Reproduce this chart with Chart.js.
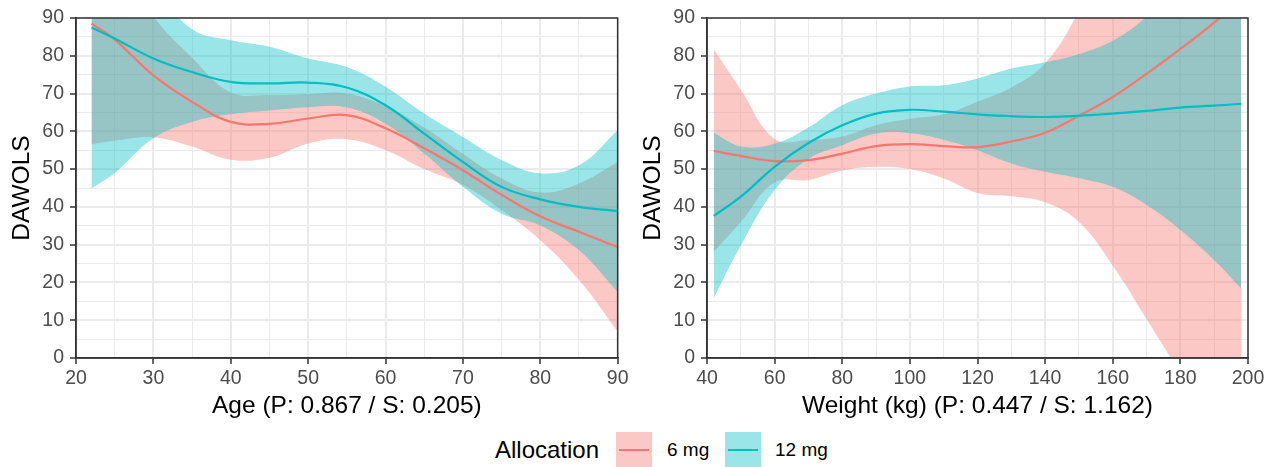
<!DOCTYPE html>
<html><head><meta charset="utf-8">
<script src="https://cdn.jsdelivr.net/npm/chart.js@4.4.1/dist/chart.umd.min.js"></script>
<style>
html,body{margin:0;padding:0;background:#fff;width:1277px;height:467px;overflow:hidden;font-family:"Liberation Sans",Arial,sans-serif;}
canvas{position:absolute;top:0;}
#c1{left:0;} #c2{left:631px;}
.txt{position:absolute;top:432px;height:36px;display:flex;align-items:center;white-space:nowrap;color:#000;}
.key{position:absolute;top:432px;width:36px;height:35px;}
.key i{position:absolute;left:3px;right:3px;top:16.5px;height:2px;display:block;}
</style></head>
<body>
<canvas id="c1" width="631" height="430"></canvas>
<canvas id="c2" width="646" height="430"></canvas>
<div class="txt" style="left:495px;font-size:24px;">Allocation</div>
<div class="key" style="left:616px;background:rgba(248,118,109,0.4);"><i style="background:#F8766D"></i></div>
<div class="txt" style="left:667px;font-size:19px;">6 mg</div>
<div class="key" style="left:725px;background:rgba(0,191,196,0.4);"><i style="background:#00BFC4"></i></div>
<div class="txt" style="left:775px;font-size:19px;">12 mg</div>
<script>
// ---- Age panel ----
const ageX     = [22, 25, 30, 35, 40, 45, 50, 55, 60, 65, 70, 75, 80, 85, 90];
const age6Fit  = [88.5, 84.3, 74.8, 67.8, 62.5, 62.0, 63.4, 64.3, 60.8, 55.5, 49.7, 43.2, 37.5, 33.4, 29.4];
const age6Hi   = [120, 108, 90.5, 79.5, 70.3, 69.6, 69.8, 70.0, 66.6, 61.0, 54.0, 47.5, 43.8, 46.2, 51.8];
const age6Lo   = [56.6, 57.5, 58.4, 56.0, 52.5, 53.0, 56.8, 57.9, 55.0, 50.0, 45.8, 39.2, 31.2, 20.7, 7.0];
const age12Fit = [87.5, 84.6, 79.3, 75.7, 73.1, 72.7, 72.9, 71.6, 66.9, 59.4, 51.9, 45.3, 42.0, 40.0, 38.9];
const age12Hi  = [130, 118, 99.0, 87.0, 84.1, 82.4, 79.3, 77.0, 71.8, 64.7, 58.5, 52.4, 48.9, 51.0, 60.3];
const age12Lo  = [44.9, 49.0, 58.2, 62.5, 64.5, 65.5, 66.4, 66.3, 62.0, 54.1, 45.3, 38.2, 35.1, 28.5, 17.5];

// ---- Weight panel ----
const wtX      = [42, 50, 60, 70, 80, 90, 100, 110, 120, 130, 140, 150, 160, 170, 180, 190, 198];
const wt6Fit   = [54.8, 53.5, 52.1, 52.4, 54.1, 56.1, 56.6, 56.1, 55.8, 57.3, 59.6, 64.1, 69.1, 75.2, 81.8, 88.8, 95.0];
const wt6Hi    = [81.7, 71.0, 58.0, 57.7, 58.6, 61.6, 63.3, 64.5, 67.8, 71.6, 78.0, 92.0, 113, 140, 168, 195, 215];
const wt6Lo    = [28.1, 36.0, 46.5, 47.1, 49.6, 50.6, 50.0, 47.5, 43.7, 42.8, 41.2, 36.0, 24.5, 10.3, -4, -18, -30];
const wt12Fit  = [37.6, 42.7, 50.6, 56.9, 61.6, 64.7, 65.7, 65.2, 64.5, 64.0, 63.8, 64.1, 64.7, 65.4, 66.3, 66.8, 67.3];
const wt12Hi   = [59.6, 56.0, 56.7, 61.0, 66.9, 70.0, 71.9, 72.2, 74.0, 76.6, 78.3, 80.5, 84.0, 90.3, 98.7, 107.5, 116];
const wt12Lo   = [15.9, 29.8, 44.5, 52.7, 56.3, 59.4, 59.5, 57.8, 55.0, 51.5, 49.3, 47.6, 45.3, 40.5, 33.9, 25.9, 18.4];

const yTickStep = 5, yMajor = 10;
const RED = '#F8766D', CYAN = '#00BFC4';
const FONT = '"Liberation Sans", Arial, sans-serif';

const pts = (xs, ys) => xs.map((x, i) => ({x, y: ys[i]}));

const frame = {
  id: 'frame',
  afterDatasetsDraw(chart) {
    const {ctx, chartArea: a} = chart;
    ctx.save();
    ctx.strokeStyle = '#333333';
    ctx.lineWidth = 1.5;
    ctx.strokeRect(a.left, a.top, a.right - a.left, a.bottom - a.top);
    ctx.restore();
  }
};

function axis(min, max, step, major, title, isX) {
  return {
    type: 'linear', min, max,
    afterFit: s => { if (isX) s.height = 72; else s.width = 76; },
    border: {display: true, color: '#333333', width: 1.5},
    grid: {
      color: '#EBEBEB',
      lineWidth: c => (c.tick && Math.abs(c.tick.value % major) < 1e-6) ? 2 : 1,
      tickColor: c => (c.tick && Math.abs(c.tick.value % major) < 1e-6) ? '#333333' : 'rgba(0,0,0,0)',
      tickLength: 6, tickWidth: 1.5, drawTicks: true
    },
    ticks: {
      stepSize: step, autoSkip: false, maxRotation: 0, minRotation: 0,
      padding: isX ? 2.5 : 6, color: '#4D4D4D',
      font: {family: FONT, size: 19.5},
      callback: v => (Math.abs(v % major) < 1e-6) ? String(v) : ''
    },
    title: {
      display: true, text: title, color: '#000',
      font: {family: FONT, size: 24.5},
      padding: isX ? {top: 0, bottom: 8.6} : {top: 8, bottom: 0}
    }
  };
}

function band(data, color, target) {
  return {data, borderWidth: 0, borderColor: 'rgba(0,0,0,0)', pointRadius: 0,
    backgroundColor: color, fill: target, tension: 0.4};
}
function line(data, color) {
  return {data, borderWidth: 2.2, borderColor: color, pointRadius: 0, fill: false,
    tension: 0.4};
}

function make(id, xs, f6, h6, l6, f12, h12, l12, xmin, xmax, xstep, xmajor, xtitle, padRight) {
  new Chart(document.getElementById(id), {
    type: 'line',
    data: {datasets: [
      band(pts(xs, h12), 'rgba(0,191,196,0.4)', '+1'),
      band(pts(xs, l12), 'rgba(0,0,0,0)', false),
      band(pts(xs, h6), 'rgba(248,118,109,0.4)', '+1'),
      band(pts(xs, l6), 'rgba(0,0,0,0)', false),
      line(pts(xs, f12), CYAN),
      line(pts(xs, f6), RED)
    ]},
    options: {
      responsive: false, animation: false, devicePixelRatio: 1,
      layout: {padding: {top: 18, right: padRight, left: 0, bottom: 0}},
      plugins: {legend: {display: false}, tooltip: {enabled: false},
        filler: {drawTime: 'beforeDatasetsDraw'}},
      scales: {
        x: axis(xmin, xmax, xstep, xmajor, xtitle, true),
        y: axis(0, 90, yTickStep, yMajor, 'DAWOLS', false)
      }
    },
    plugins: [frame]
  });
}

make('c1', ageX, age6Fit, age6Hi, age6Lo, age12Fit, age12Hi, age12Lo, 20, 90, 5, 10, 'Age (P: 0.867 / S: 0.205)', 13);
make('c2', wtX, wt6Fit, wt6Hi, wt6Lo, wt12Fit, wt12Hi, wt12Lo, 40, 200, 10, 20, 'Weight (kg) (P: 0.447 / S: 1.162)', 29);
</script>
</body></html>
